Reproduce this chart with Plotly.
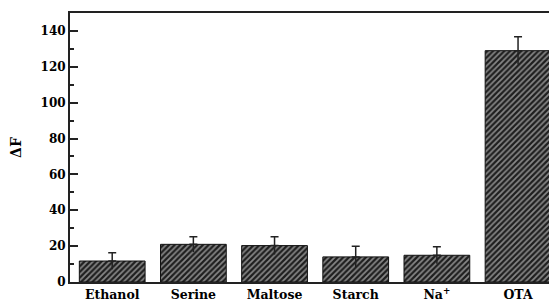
import plotly.graph_objects as go

categories = ["Ethanol", "Serine", "Maltose", "Starch", "Na<sup>+</sup>", "OTA"]
values = [11.7, 21.0, 20.3, 14.0, 14.9, 129.0]
errors = [4.6, 4.3, 5.0, 6.0, 4.7, 7.7]
y_ticks = [0, 20, 40, 60, 80, 100, 120, 140]

font_fam = "DejaVu Serif"

fig = go.Figure()
fig.add_trace(go.Bar(
    x=categories, y=values, width=0.81,
    marker=dict(color="#1e1e1e", line=dict(color="#111111", width=1),
                pattern=dict(shape="/", fgcolor="#f0f0f0", bgcolor="#1e1e1e",
                             size=4, solidity=0.45)),
    error_y=dict(type="data", array=errors, arrayminus=[0]*len(errors),
                 symmetric=False, color="#222222", thickness=1.5, width=4),
))
fig.add_trace(go.Scatter(
    x=categories, y=values, mode="markers", marker=dict(opacity=0),
    error_y=dict(type="data", array=[0]*len(errors), arrayminus=errors,
                 symmetric=False, color="#222222", thickness=1.5, width=0),
    hoverinfo="skip",
))

fig.update_layout(
    width=549, height=292,
    margin=dict(l=62, r=0, t=5, b=18),
    plot_bgcolor="white", paper_bgcolor="white",
    showlegend=False,
    font=dict(family=font_fam, size=13, color="black"),
)
fig.update_xaxes(
    type="category", range=[-0.52, 5.48], automargin=False,
    showline=True, linecolor="#222222", linewidth=2, mirror=True,
    ticks="", showgrid=False,
    tickfont=dict(family=font_fam, size=12.5, color="black", weight="bold"),
)
fig.update_yaxes(
    range=[0, 150], tickvals=y_ticks, automargin=False,
    showline=True, linecolor="#222222", linewidth=2, mirror=False,
    ticks="inside", ticklen=8, tickwidth=2, tickcolor="#222222",
    minor=dict(ticks="inside", ticklen=4, tickwidth=2, dtick=10, tickcolor="#222222"),
    showgrid=False, zeroline=False,
    tickfont=dict(family=font_fam, size=12, color="black", weight="bold"),
    title=dict(text="ΔF", font=dict(family=font_fam, size=14, weight="bold"), standoff=32),
)

fig.write_html("out.html")
